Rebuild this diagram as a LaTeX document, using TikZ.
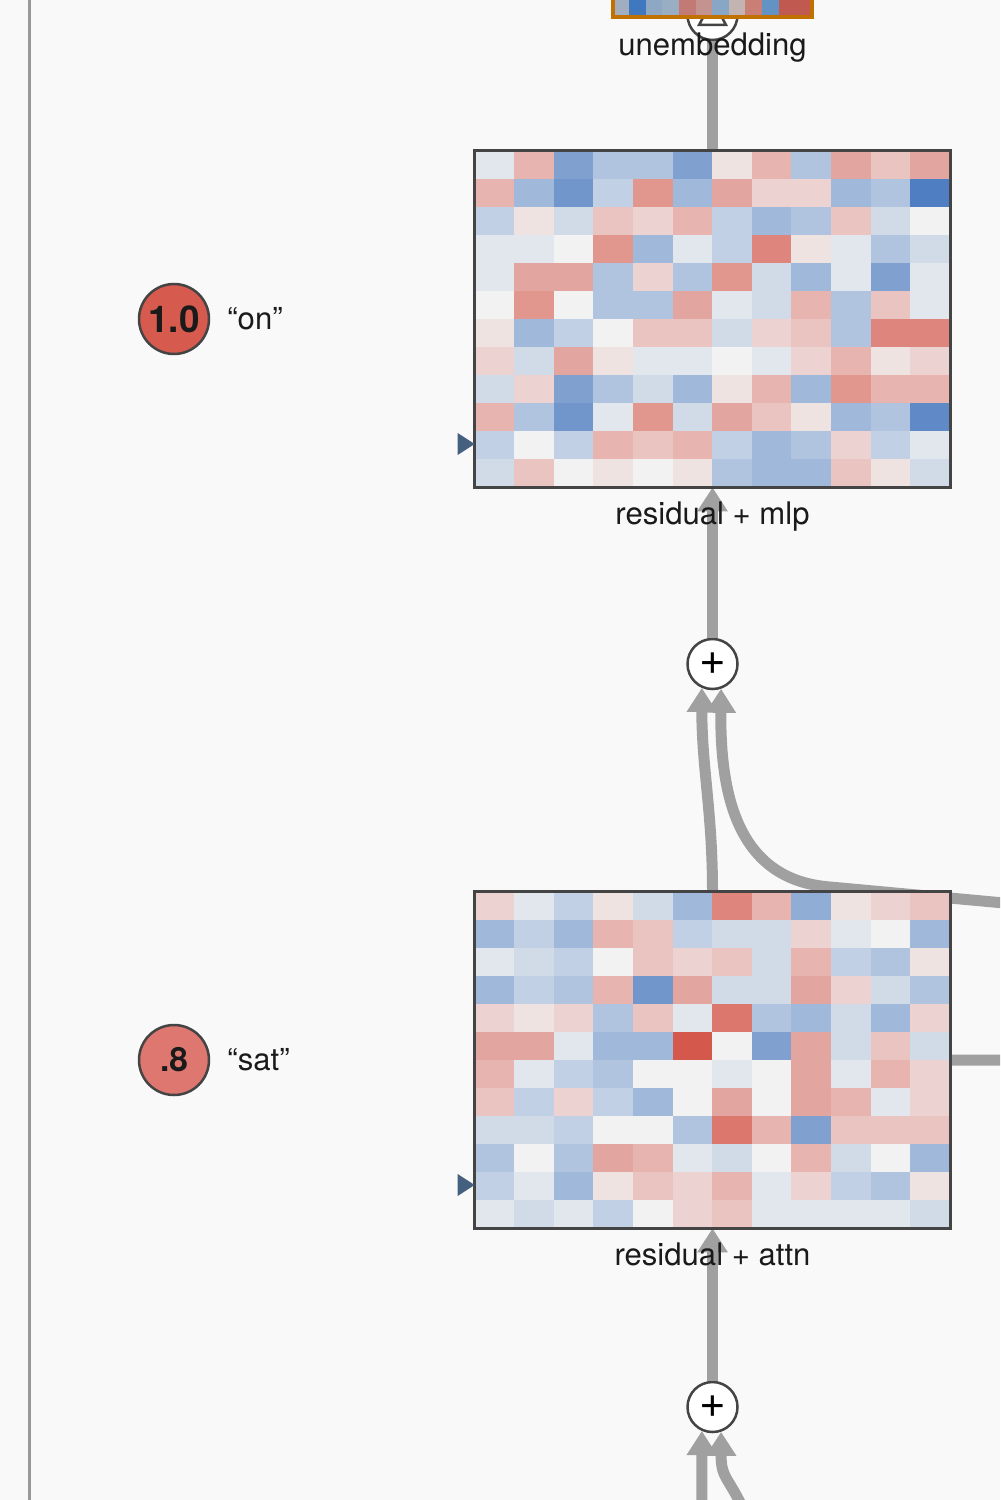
\documentclass[tikz,border=0pt]{standalone}
\usepackage{fontspec}
\setmainfont{TeX Gyre Heros}
\usetikzlibrary{arrows.meta}

\definecolor{paper}{HTML}{F9F9F9}
\definecolor{rulegray}{HTML}{999999}
\definecolor{conngray}{HTML}{A0A0A0}
\definecolor{framegray}{HTML}{444444}
\definecolor{textdark}{HTML}{1A1A1A}
\definecolor{hmred}{HTML}{D5584C}
\definecolor{hmblue}{HTML}{4F7FC2}
\definecolor{hmbase}{HTML}{F2F2F2}
\definecolor{tokhigh}{HTML}{D65A4E}
\definecolor{toklow}{HTML}{DE776F}
\definecolor{markblue}{HTML}{45607F}
\definecolor{unorange}{HTML}{C17100}

\tikzstyle{heat} = [rectangle, minimum width=9.5cm, minimum height=6.72cm, inner sep=0pt]
\tikzstyle{heatframe} = [draw=framegray, line width=0.06cm]
\tikzstyle{unembox} = [rectangle, minimum width=3.98cm, minimum height=1cm, inner sep=0pt]
\tikzstyle{unframe} = [draw=unorange, line width=0.075cm]
\tikzstyle{adder} = [circle, minimum size=1cm, inner sep=0pt, draw=framegray, line width=0.05cm, fill=white, text=black, font=\fontsize{26}{26}\selectfont]
\tikzstyle{sumnode} = [circle, minimum size=1cm, inner sep=0pt, draw=framegray, line width=0.05cm, fill=white,
  path picture={\draw[line width=0.05cm] ([shift={(-0.27,-0.2)}]path picture bounding box.center) -- ++(0.54,0) -- ++(-0.27,0.5) -- cycle;}]
\tikzstyle{token} = [circle, minimum size=1.4cm, inner sep=0pt, draw=framegray, line width=0.05cm, text=textdark]
\tikzstyle{word} = [text=textdark, font=\fontsize{17.7}{20}\selectfont]
\tikzstyle{caption} = [text=textdark, font=\fontsize{17.7}{20}\selectfont, text height=0.72em, text depth=0.21em]
\tikzstyle{arrow} = [line width=0.22cm, draw=conngray, -{Triangle[width=0.58cm, length=0.48cm, fill=conngray]}]
\tikzstyle{plainline} = [line width=0.22cm, draw=conngray]

\begin{document}
\begin{tikzpicture}[node distance=7cm]

\fill[paper] (0,0) rectangle (20,-30);
\useasboundingbox (0,0) rectangle (20,-30);
\clip (0,0) rectangle (20,-30);
\draw[rulegray, line width=0.06cm] (0.59,0) -- (0.59,-30);

\node (mlp) [heat] at (14.25,-6.38) {};
\node (add1) [adder, below of=mlp, yshift=0.1cm] {+};
\node (attn) [heat, below of=add1, yshift=-0.92cm] {};
\node (add2) [adder, below of=attn, yshift=0.06cm] {+};
\node (sum) [sumnode, above of=mlp, yshift=-0.92cm] {};
\node (unemb) [unembox, above of=sum, node distance=0.46cm] {};
\node (tok1) [token, fill=tokhigh, left of=mlp, xshift=-3.77cm, font=\bfseries\fontsize{21}{21}\selectfont] {1.0};
\node (tok2) [token, fill=toklow, left of=attn, xshift=-3.77cm, font=\bfseries\fontsize{19}{19}\selectfont] {.8};
\node (w1) [word, right of=tok1, node distance=1.62cm] {“on”};
\node (w2) [word, right of=tok2, node distance=1.69cm] {“sat”};

\coordinate (attnin) at (20.3,-18.08);
\coordinate (attnbend) at (16.6,-17.74);
\coordinate (attnout) at (20.3,-21.2);
\coordinate (resin) at (14.04,-30.4);
\coordinate (mlpin) at (15.0,-30.5);

% residual stream
\draw [plainline] (mlp.north) -- (sum);
\draw [arrow] (add1) -- (mlp);
\draw [arrow] (attn.north) .. controls +(0,1.6) and +(0,-1.6) .. (add1.246);
\draw [arrow] (attnin) -- (attnbend) .. controls (14.8,-17.6) and (14.4,-16.0) .. (add1.289);
\draw [plainline] (attn.east) -- (attnout);
\draw [arrow] (add2) -- (attn);
\draw [arrow] (resin) -- (add2.246);
\draw [arrow] (mlpin) .. controls +(-0.4,1.0) and +(0,-1.0) .. (add2.289);

% residual + mlp cells
\begin{scope}[shift={(mlp.north west)}]
\foreach \row [count=\rw] in {{-1,4,-7,-4,-4,-7,1,4,-4,5,3,5},
  {4,-5,-8,-3,6,-5,5,2,2,-5,-4,-10},
  {-3,1,-2,3,2,4,-3,-5,-4,3,-2,0},
  {-1,-1,0,6,-5,-1,-3,7,1,-1,-4,-2},
  {-1,5,5,-4,2,-4,6,-2,-5,-1,-7,-1},
  {0,6,0,-4,-4,5,-1,-2,4,-4,3,-1},
  {1,-5,-3,0,3,3,-2,2,3,-4,7,7},
  {2,-2,5,1,-1,-1,0,-1,2,4,1,2},
  {-2,2,-7,-4,-2,-5,1,4,-5,6,4,4},
  {4,-4,-8,-1,6,-2,5,3,1,-5,-4,-9},
  {-3,0,-3,4,3,4,-3,-5,-4,2,-3,-1},
  {-2,3,0,1,0,1,-4,-5,-5,3,1,-2}} {
  \foreach \val [count=\col] in \row {
    \ifnum\val<0 \def\hue{hmblue}\else\def\hue{hmred}\fi
    \pgfmathtruncatemacro\pct{abs(\val)*10}
    \fill[\hue!\pct!hmbase] ({(\col-1)*0.7917},{-(\rw-1)*0.56}) rectangle ++(0.8,-0.57);
  }
}
\end{scope}
\draw[heatframe] (mlp.north west) rectangle (mlp.south east);

% residual + attn cells
\begin{scope}[shift={(attn.north west)}]
\foreach \row [count=\rw] in {{2,-1,-3,1,-2,-5,7,4,-6,1,2,3},
  {-5,-3,-5,4,3,-3,-2,-2,2,-1,0,-5},
  {-1,-2,-3,0,3,2,3,-2,4,-3,-4,1},
  {-5,-3,-4,4,-8,5,-2,-2,5,2,-2,-4},
  {2,1,2,-4,3,-1,8,-4,-5,-2,-5,2},
  {5,5,-1,-5,-5,10,0,-7,5,-2,3,-2},
  {4,-1,-3,-4,0,0,-1,0,5,-1,4,2},
  {3,-3,2,-3,-5,0,5,0,5,4,-1,2},
  {-2,-2,-3,0,0,-4,8,4,-7,3,3,3},
  {-4,0,-4,5,4,-1,-2,0,4,-2,0,-5},
  {-3,-1,-5,1,3,2,4,-1,2,-3,-4,1},
  {-1,-2,-1,-3,0,2,3,-1,-1,-1,-1,-2}} {
  \foreach \val [count=\col] in \row {
    \ifnum\val<0 \def\hue{hmblue}\else\def\hue{hmred}\fi
    \pgfmathtruncatemacro\pct{abs(\val)*10}
    \fill[\hue!\pct!hmbase] ({(\col-1)*0.7917},{-(\rw-1)*0.56}) rectangle ++(0.8,-0.57);
  }
}
\end{scope}
\draw[heatframe] (attn.north west) rectangle (attn.south east);

% position markers
\foreach \hm in {mlp,attn}
  \fill[markblue] ([yshift=-2.5cm]\hm.west) -- ++(-0.34,0.22) -- ++(0,-0.44) -- cycle;

% unembedding
\begin{scope}[shift={(unemb.south west)}]
\foreach \hx [count=\col] in {A0AEC0,3F78BE,8EA8C4,9AAEC3,C47A74,C49390,88A6C6,C4B4B1,C97E76,6393C4,C05A50,C05A50} {
  \definecolor{cellcol}{HTML}{\hx}
  \fill[cellcol] ({(\col-1)*0.3317},0) rectangle ++(0.34,1.0);
}
\end{scope}
\draw[unframe] (unemb.south west) rectangle (unemb.north east);

\node (mlplab) [caption, below of=mlp, node distance=4.02cm] {residual + mlp};
\node (attnlab) [caption, below of=attn, node distance=4.02cm] {residual + attn};
\node (unemblab) [caption, below of=sum, node distance=0.72cm] {unembedding};

\end{tikzpicture}
\end{document}
